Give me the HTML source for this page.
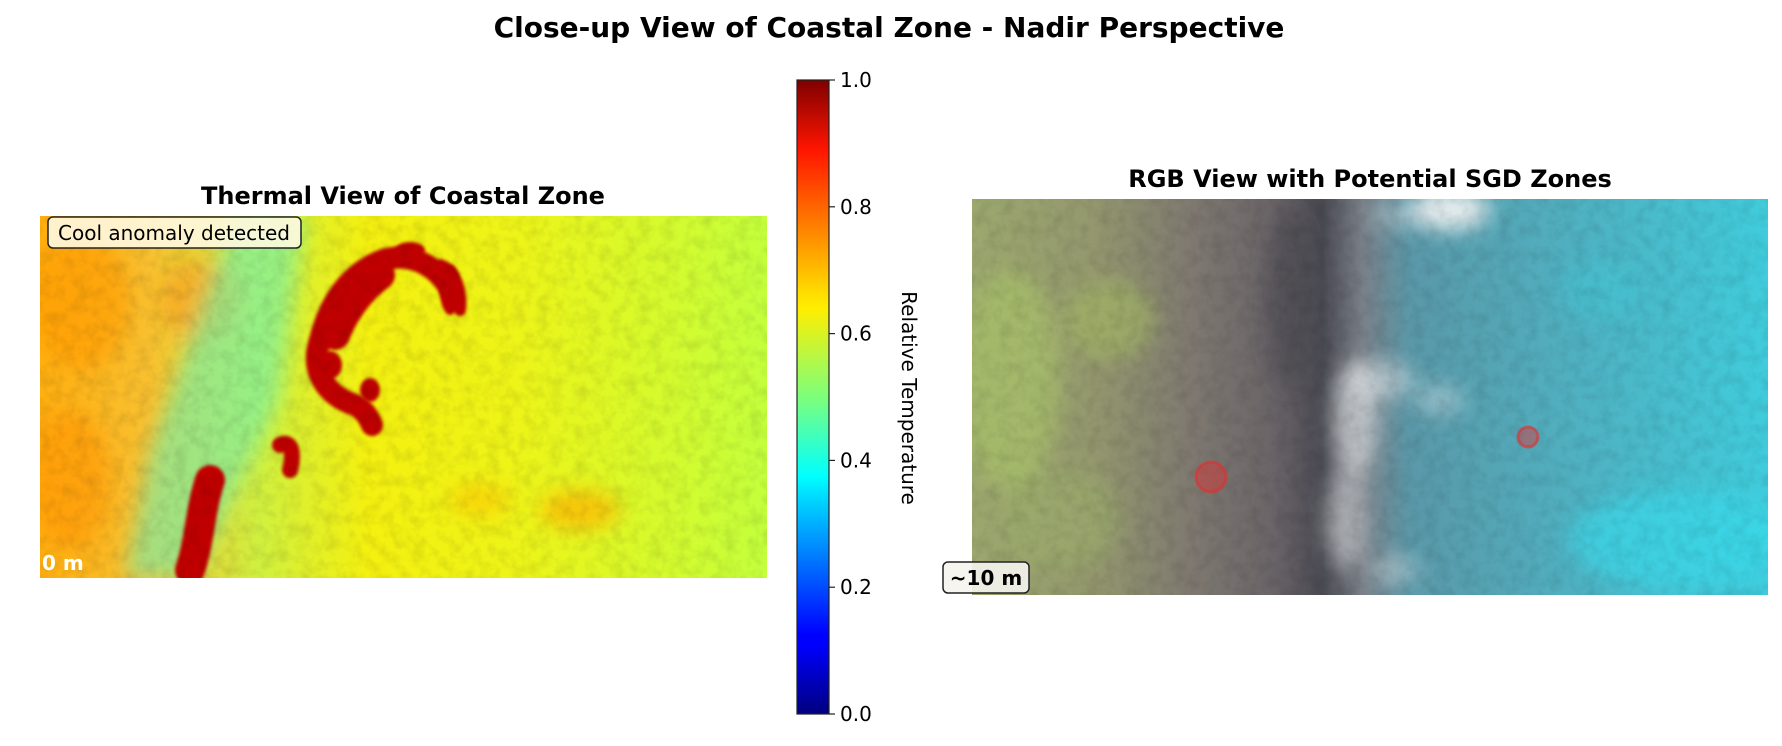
<!DOCTYPE html>
<html><head><meta charset="utf-8"><style>
html,body{margin:0;padding:0;background:#fff;}
body{width:1782px;height:742px;overflow:hidden;font-family:"DejaVu Sans","Liberation Sans",sans-serif;}
</style></head><body>
<svg width="1782" height="742" viewBox="0 0 1782 742" xmlns="http://www.w3.org/2000/svg" font-family="DejaVu Sans, Liberation Sans, sans-serif">
<defs>
<linearGradient id="jet" x1="0" y1="1" x2="0" y2="0">
<stop offset="0" stop-color="#00007f"/><stop offset="0.11" stop-color="#0000ff"/><stop offset="0.125" stop-color="#0000ff"/>
<stop offset="0.34" stop-color="#00d8ff"/><stop offset="0.375" stop-color="#00ffff"/><stop offset="0.5" stop-color="#7dff7a"/>
<stop offset="0.64" stop-color="#ffee00"/><stop offset="0.66" stop-color="#ffe000"/><stop offset="0.89" stop-color="#ff1500"/>
<stop offset="1" stop-color="#7f0000"/></linearGradient>
<linearGradient id="thermBase" x1="0" y1="0" x2="1" y2="0">
<stop offset="0" stop-color="#ffb010"/><stop offset="0.15" stop-color="#f8c030"/><stop offset="0.3" stop-color="#d0f040"/>
<stop offset="0.45" stop-color="#f4f010"/><stop offset="0.65" stop-color="#eef418"/><stop offset="1" stop-color="#c4ff3c"/></linearGradient>
<linearGradient id="rgbBase" x1="0" y1="0" x2="1" y2="0">
<stop offset="0" stop-color="#9ca86e"/><stop offset="0.15" stop-color="#94986e"/><stop offset="0.28" stop-color="#7e7870"/>
<stop offset="0.38" stop-color="#6a6468"/><stop offset="0.44" stop-color="#4a4a52"/><stop offset="0.49" stop-color="#7a8088"/>
<stop offset="0.55" stop-color="#5a98a8"/><stop offset="0.75" stop-color="#50b0c0"/><stop offset="1" stop-color="#40ccdc"/></linearGradient>
<filter id="noise" x="0" y="0" width="100%" height="100%">
<feTurbulence type="fractalNoise" baseFrequency="0.08" numOctaves="3" seed="3"/>
<feColorMatrix type="matrix" values="0 0 0 0 0  0 0 0 0 0  0 0 0 0 0  0 0 0 -1.2 0.75"/>
<feComposite in2="SourceGraphic" operator="in"/></filter>
<filter id="blur8"><feGaussianBlur stdDeviation="10"/></filter>
<filter id="blur4"><feGaussianBlur stdDeviation="5"/></filter>
<filter id="blur2"><feGaussianBlur stdDeviation="1.5"/></filter>
<clipPath id="clipL"><rect x="40" y="216" width="727" height="362"/></clipPath>
<clipPath id="clipR"><rect x="972" y="199" width="796" height="396"/></clipPath>
</defs>

<text x="889" y="37" text-anchor="middle" font-size="28" font-weight="bold">Close-up View of Coastal Zone - Nadir Perspective</text>

<!-- Thermal -->
<text x="403" y="204" text-anchor="middle" font-size="24" font-weight="bold">Thermal View of Coastal Zone</text>
<g clip-path="url(#clipL)">
<rect x="40" y="216" width="727" height="362" fill="url(#thermBase)"/>
<g filter="url(#blur8)">
<ellipse cx="80" cy="300" rx="50" ry="70" fill="#ff9a00" opacity="0.6"/>
<ellipse cx="70" cy="480" rx="40" ry="70" fill="#ff9000" opacity="0.5"/>
<ellipse cx="200" cy="300" rx="40" ry="40" fill="#ff8a10" opacity="0.45"/>
<polygon points="235,216 305,216 280,400 195,578 125,578 150,450" fill="#70f0b0" opacity="0.6"/>
<ellipse cx="580" cy="510" rx="40" ry="20" fill="#ffb000" opacity="0.7"/>
<ellipse cx="480" cy="500" rx="30" ry="15" fill="#ffc000" opacity="0.6"/>
</g>
<g filter="url(#blur2)" fill="none" stroke="#c00000" stroke-linecap="round">
<path d="M455,300 C440,262 405,250 378,262 C350,275 330,300 320,340 C310,370 325,395 355,405 C365,410 370,420 372,425" stroke-width="22"/>
<path d="M380,275 C360,290 345,310 335,335" stroke-width="30"/>
<path d="M440,265 C455,270 462,290 460,310" stroke-width="12"/>
<path d="M290,470 C295,450 290,440 280,445" stroke-width="16"/>
<path d="M210,480 C200,510 200,540 190,570" stroke-width="30"/>
</g>
<g filter="url(#blur2)" fill="#c00000">
<ellipse cx="330" cy="365" rx="12" ry="14"/><ellipse cx="370" cy="390" rx="10" ry="12"/>
<ellipse cx="450" cy="290" rx="10" ry="25"/><ellipse cx="410" cy="250" rx="15" ry="8"/>
</g>
<rect x="40" y="216" width="727" height="362" fill="#000" filter="url(#noise)" opacity="0.15"/>
</g>
<text x="42" y="570" font-size="20" font-weight="bold" fill="#fff">0 m</text>
<rect x="48" y="217" width="253" height="31" rx="5" fill="#fff8e0" fill-opacity="0.9" stroke="#222" stroke-width="1.5"/>
<text x="174" y="240" text-anchor="middle" font-size="20">Cool anomaly detected</text>

<!-- Colorbar -->
<rect x="797" y="80" width="32" height="634" fill="url(#jet)" stroke="#222" stroke-width="1.2"/>
<g id="cbticks"></g>
<text transform="translate(902,398) rotate(90)" text-anchor="middle" font-size="20">Relative Temperature</text>

<!-- RGB -->
<text x="1370" y="187" text-anchor="middle" font-size="24" font-weight="bold">RGB View with Potential SGD Zones</text>
<g clip-path="url(#clipR)">
<rect x="972" y="199" width="796" height="396" fill="url(#rgbBase)"/>
<g filter="url(#blur8)">
<ellipse cx="1010" cy="380" rx="50" ry="110" fill="#a8c06a" opacity="0.7"/>
<ellipse cx="1110" cy="320" rx="45" ry="40" fill="#a4b864" opacity="0.6"/>
<ellipse cx="1060" cy="520" rx="60" ry="50" fill="#9cb068" opacity="0.5"/>
<ellipse cx="1290" cy="300" rx="25" ry="90" fill="#4a4850" opacity="0.6"/>
<ellipse cx="1600" cy="290" rx="40" ry="30" fill="#40c8d8" opacity="0.4"/>
<ellipse cx="1680" cy="540" rx="110" ry="50" fill="#38dcec" opacity="0.6"/>
</g>
<g filter="url(#blur8)" fill="#e8ecee">
<ellipse cx="1355" cy="420" rx="22" ry="60" opacity="0.6"/>
<ellipse cx="1380" cy="380" rx="35" ry="20" opacity="0.5"/>
<ellipse cx="1345" cy="520" rx="20" ry="50" opacity="0.5"/>
<ellipse cx="1440" cy="400" rx="25" ry="15" opacity="0.4"/>
<ellipse cx="1395" cy="570" rx="25" ry="15" opacity="0.4"/>
<ellipse cx="1450" cy="210" rx="40" ry="20" fill="#f4f4f4" opacity="0.9"/>
<ellipse cx="1400" cy="215" rx="30" ry="12" opacity="0.4"/>
</g>
<rect x="972" y="199" width="796" height="396" fill="#000" filter="url(#noise)" opacity="0.14"/>
</g>
<circle cx="1211" cy="477" r="15" fill="#e03030" fill-opacity="0.45" stroke="#e03030" stroke-opacity="0.6" stroke-width="3"/>
<circle cx="1528" cy="437" r="10" fill="#e03030" fill-opacity="0.45" stroke="#e03030" stroke-opacity="0.6" stroke-width="3"/>
<rect x="943" y="562" width="86" height="31" rx="5" fill="#f6f4ee" fill-opacity="0.9" stroke="#222" stroke-width="1.5"/>
<text x="986" y="585" text-anchor="middle" font-size="20" font-weight="bold">~10 m</text>
</svg>
<script>
const tickValues = [0.0, 0.2, 0.4, 0.6, 0.8, 1.0];
const tickLabels = ["0.0", "0.2", "0.4", "0.6", "0.8", "1.0"];
const cbTop = 80, cbBottom = 714;
function yScale(v){ return cbBottom - v * (cbBottom - cbTop); }
const g = document.getElementById('cbticks');
const NS = 'http://www.w3.org/2000/svg';
tickValues.forEach((v, i) => {
  const y = yScale(v);
  const l = document.createElementNS(NS, 'line');
  l.setAttribute('x1', 829); l.setAttribute('x2', 835);
  l.setAttribute('y1', y); l.setAttribute('y2', y);
  l.setAttribute('stroke', '#222'); l.setAttribute('stroke-width', 1.2);
  
  
  g.appendChild(l);
  const t = document.createElementNS(NS, 'text');
  t.setAttribute('x', 840); t.setAttribute('y', y + 7);
  t.setAttribute('font-size', '20');
  t.textContent = tickLabels[i];
  
  
  g.appendChild(t);
});
</script>
</body></html>
